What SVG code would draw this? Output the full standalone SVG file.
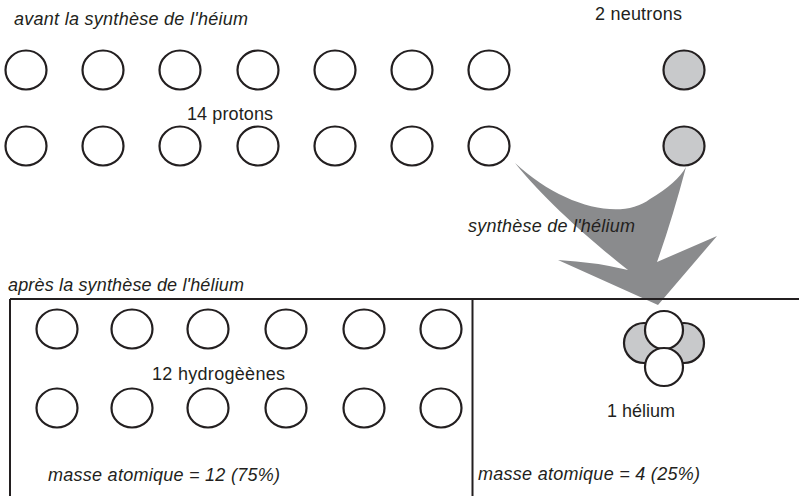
<svg xmlns="http://www.w3.org/2000/svg" width="799" height="496" viewBox="0 0 799 496">
<style>
text{font-family:"Liberation Sans",Arial,sans-serif;font-size:18px;fill:#231f20}
.it{font-style:italic}
.p{fill:#fff;stroke:#231f20;stroke-width:2.2}
.n{fill:#c8c9cb;stroke:#231f20;stroke-width:2.2}
.ln{stroke:#231f20;stroke-width:2;fill:none}
</style>
<rect width="799" height="496" fill="#fff"/>
<g id="protons">
<ellipse class="p" cx="26" cy="70" rx="20.5" ry="19.5"/>
<ellipse class="p" cx="103" cy="70" rx="20.5" ry="19.5"/>
<ellipse class="p" cx="180" cy="70" rx="20.5" ry="19.5"/>
<ellipse class="p" cx="258" cy="70" rx="20.5" ry="19.5"/>
<ellipse class="p" cx="335" cy="70" rx="20.5" ry="19.5"/>
<ellipse class="p" cx="412" cy="70" rx="20.5" ry="19.5"/>
<ellipse class="p" cx="489" cy="70" rx="20.5" ry="19.5"/>
<ellipse class="p" cx="26" cy="146" rx="20.5" ry="19.5"/>
<ellipse class="p" cx="103" cy="146" rx="20.5" ry="19.5"/>
<ellipse class="p" cx="180" cy="146" rx="20.5" ry="19.5"/>
<ellipse class="p" cx="258" cy="146" rx="20.5" ry="19.5"/>
<ellipse class="p" cx="335" cy="146" rx="20.5" ry="19.5"/>
<ellipse class="p" cx="412" cy="146" rx="20.5" ry="19.5"/>
<ellipse class="p" cx="489" cy="146" rx="20.5" ry="19.5"/>
</g>
<g id="neutrons">
<ellipse class="n" cx="684" cy="70" rx="20.5" ry="19.5"/>
<ellipse class="n" cx="684" cy="146" rx="20.5" ry="19.5"/>
</g>
<g id="connectors">
<path d="M515,163 C560,205 620,222 650,199 C668,188 680,178 686,167 Q672,220 657,262 L717,236 L658,305 L558,260 Q595,262 628,270 C590,240 545,200 515,163 Z" fill="#8a8b8d"/>
</g>
<g id="boxes">
<path class="ln" d="M10,299 H799 M10,299 V496 M472.5,299 V496"/>
</g>
<g id="hydrogenes">
<ellipse class="p" cx="57" cy="329" rx="20.5" ry="19.5"/>
<ellipse class="p" cx="132" cy="329" rx="20.5" ry="19.5"/>
<ellipse class="p" cx="208" cy="329" rx="20.5" ry="19.5"/>
<ellipse class="p" cx="286" cy="329" rx="20.5" ry="19.5"/>
<ellipse class="p" cx="364" cy="329" rx="20.5" ry="19.5"/>
<ellipse class="p" cx="441" cy="329" rx="20.5" ry="19.5"/>
<ellipse class="p" cx="57" cy="408" rx="20.5" ry="19.5"/>
<ellipse class="p" cx="132" cy="408" rx="20.5" ry="19.5"/>
<ellipse class="p" cx="208" cy="408" rx="20.5" ry="19.5"/>
<ellipse class="p" cx="286" cy="408" rx="20.5" ry="19.5"/>
<ellipse class="p" cx="364" cy="408" rx="20.5" ry="19.5"/>
<ellipse class="p" cx="441" cy="408" rx="20.5" ry="19.5"/>
</g>
<g id="helium">
<ellipse class="n" cx="644" cy="343" rx="20" ry="20"/>
<ellipse class="n" cx="684" cy="343" rx="20" ry="20"/>
<ellipse class="p" cx="664" cy="330" rx="19" ry="19"/>
<ellipse class="p" cx="664" cy="367" rx="19" ry="19"/>
</g>
<g id="labels">
<text class="it" x="14" y="25" textLength="234" lengthAdjust="spacing">avant la synthèse de l'héium</text>
<text x="595" y="20" textLength="87" lengthAdjust="spacing">2 neutrons</text>
<text x="187" y="120" textLength="86" lengthAdjust="spacing">14 protons</text>
<text class="it" x="468" y="232" textLength="167" lengthAdjust="spacing">synthèse de l'hélium</text>
<text class="it" x="8" y="291" textLength="236" lengthAdjust="spacing">après la synthèse de l'hélium</text>
<text x="152" y="380" textLength="133" lengthAdjust="spacing">12 hydrogèènes</text>
<text x="607" y="417" textLength="68" lengthAdjust="spacing">1 hélium</text>
<text class="it" x="48" y="481" textLength="232" lengthAdjust="spacing">masse atomique = 12 (75%)</text>
<text class="it" x="478" y="480" textLength="222" lengthAdjust="spacing">masse atomique = 4 (25%)</text>
</g>
</svg>
